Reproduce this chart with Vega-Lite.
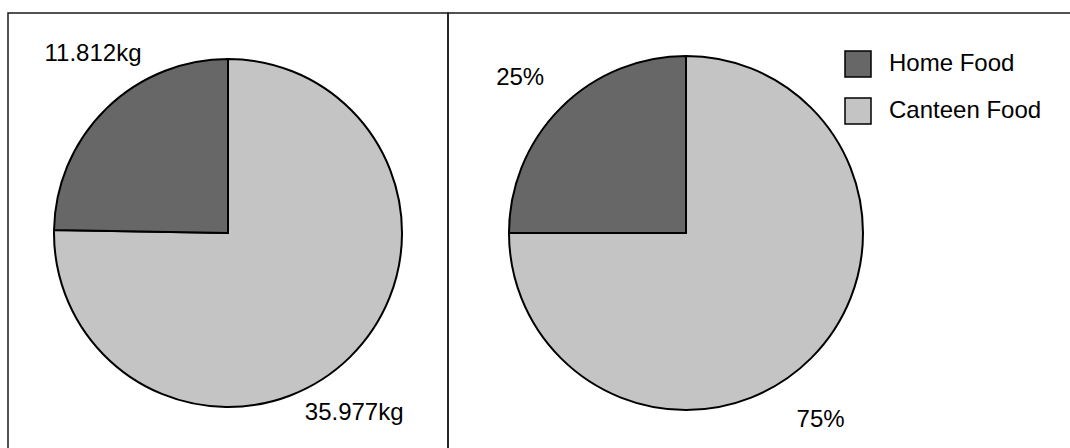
{
  "$schema": "https://vega.github.io/schema/vega-lite/v6.json",
  "background": "white",
  "padding": {"left": 7, "top": 12, "right": 0, "bottom": 0},
  "spacing": 0,
  "bounds": "flush",
  "datasets": {
    "food": [
      {"category": "Canteen Food", "kg": 35.977, "kgLabel": "35.977kg", "pct": 75, "pctLabel": "75%", "order": 1},
      {"category": "Home Food", "kg": 11.812, "kgLabel": "11.812kg", "pct": 25, "pctLabel": "25%", "order": 2}
    ],
    "frame": [{"panel": "frame"}]
  },
  "config": {
    "view": {"stroke": null},
    "font": "Liberation Sans",
    "text": {"font": "Liberation Sans", "fontSize": 24, "fill": "black", "align": "center", "baseline": "middle"},
    "legend": {
      "labelFont": "Liberation Sans",
      "labelFontSize": 24,
      "labelColor": "black",
      "labelLimit": 0,
      "symbolType": "square",
      "symbolSize": 676,
      "symbolStrokeColor": "black",
      "symbolStrokeWidth": 1.5,
      "symbolOpacity": 1,
      "labelOffset": 17,
      "rowPadding": 15,
      "padding": 0
    }
  },
  "resolve": {"scale": {"color": "independent"}, "legend": {"color": "independent"}},
  "hconcat": [
    {
      "width": 440,
      "height": 440,
      "layer": [
        {
          "data": {"name": "frame"},
          "mark": {"type": "rect", "fill": "transparent", "stroke": "#1a1a1a", "strokeWidth": 1.5},
          "encoding": {}
        },
        {
          "data": {"name": "food"},
          "mark": {"type": "arc", "radius": 174, "stroke": "black", "strokeWidth": 2},
          "encoding": {
            "theta": {"field": "kg", "type": "quantitative", "stack": true},
            "order": {"field": "order", "type": "quantitative"},
            "color": {"field": "category", "type": "nominal", "scale": {"domain": ["Home Food", "Canteen Food"], "range": ["#676767", "#c4c4c4"]}, "legend": null}
          }
        },
        {
          "data": {"name": "food"},
          "mark": {"type": "text", "radius": 224, "dx": 22, "dy": -19},
          "encoding": {
            "theta": {"field": "kg", "type": "quantitative", "stack": true},
            "order": {"field": "order", "type": "quantitative"},
            "text": {"condition": {"test": "datum.category === 'Home Food'", "field": "kgLabel"}, "value": ""}
          }
        },
        {
          "data": {"name": "food"},
          "mark": {"type": "text", "radius": 220, "dx": -28, "dy": 23},
          "encoding": {
            "theta": {"field": "kg", "type": "quantitative", "stack": true},
            "order": {"field": "order", "type": "quantitative"},
            "text": {"condition": {"test": "datum.category === 'Canteen Food'", "field": "kgLabel"}, "value": ""}
          }
        }
      ]
    },
    {
      "width": 630,
      "height": 440,
      "layer": [
        {
          "data": {"name": "frame"},
          "mark": {"type": "rect", "fill": "transparent", "stroke": "#1a1a1a", "strokeWidth": 1.5},
          "encoding": {}
        },
        {
          "data": {"name": "food"},
          "mark": {"type": "arc", "radius": 177, "x": 238, "stroke": "black", "strokeWidth": 2},
          "encoding": {
            "theta": {"field": "pct", "type": "quantitative", "stack": true},
            "order": {"field": "order", "type": "quantitative"},
            "color": {
              "field": "category", "type": "nominal",
              "scale": {"domain": ["Home Food", "Canteen Food"], "range": ["#676767", "#c4c4c4"]},
              "legend": {"title": null, "orient": "none", "legendX": 396, "legendY": 37}
            }
          }
        },
        {
          "data": {"name": "food"},
          "mark": {"type": "text", "radius": 226, "x": 238, "dx": -6, "dy": 5},
          "encoding": {
            "theta": {"field": "pct", "type": "quantitative", "stack": true},
            "order": {"field": "order", "type": "quantitative"},
            "text": {"condition": {"test": "datum.category === 'Home Food'", "field": "pctLabel"}, "value": ""}
          }
        },
        {
          "data": {"name": "food"},
          "mark": {"type": "text", "radius": 230, "x": 238, "dx": -28, "dy": 24},
          "encoding": {
            "theta": {"field": "pct", "type": "quantitative", "stack": true},
            "order": {"field": "order", "type": "quantitative"},
            "text": {"condition": {"test": "datum.category === 'Canteen Food'", "field": "pctLabel"}, "value": ""}
          }
        }
      ]
    }
  ]
}
